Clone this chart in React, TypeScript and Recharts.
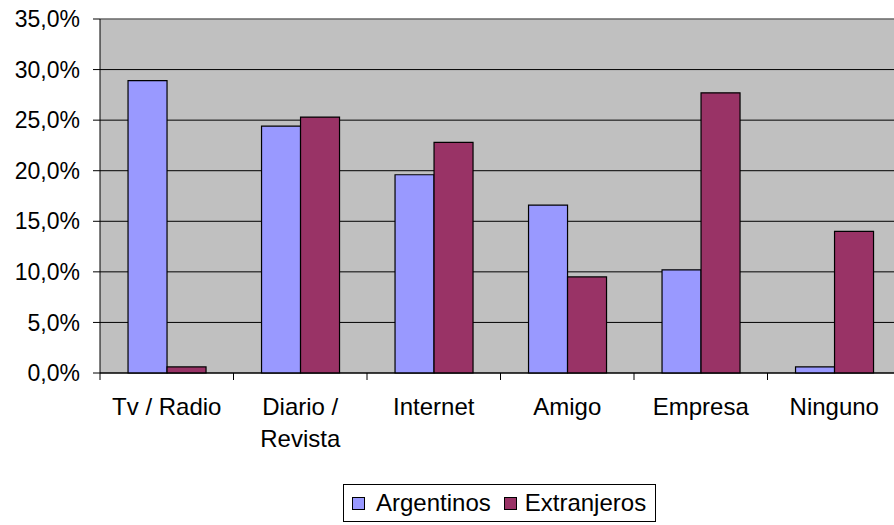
import React from 'react';
import {
  BarChart,
  Bar,
  XAxis,
  YAxis,
  CartesianGrid,
  ReferenceLine,
  Legend
} from 'recharts';

const categories = ['Tv / Radio', 'Diario / Revista', 'Internet', 'Amigo', 'Empresa', 'Ninguno'];
const argentinos = [28.9, 24.4, 19.6, 16.6, 10.2, 0.6];
const extranjeros = [0.6, 25.3, 22.8, 9.5, 27.7, 14.0];
const yTicks = [0, 5, 10, 15, 20, 25, 30, 35];

const seriesInfo = [
  { key: 'argentinos', name: 'Argentinos', color: '#9999FF' },
  { key: 'extranjeros', name: 'Extranjeros', color: '#993366' }
];

const data = categories.map((cat, i) => ({
  cat,
  argentinos: argentinos[i],
  extranjeros: extranjeros[i]
}));

const FONT = '"Liberation Sans", Arial, sans-serif';

const fmtPct = (v: number) => v.toFixed(1).replace('.', ',') + '%';

// splits "Diario / Revista" into two lines like the original
const wrapLabel = (s: string) => (s === 'Diario / Revista' ? ['Diario /', 'Revista'] : [s]);

const CatTick = (props: any) => {
  const { x, y, payload } = props;
  const lines = wrapLabel(payload.value);
  return (
    <text x={x} y={y} textAnchor="middle" fill="#000" fontSize={24} fontFamily={FONT}>
      {lines.map((l, i) => (
        <tspan key={i} x={x} dy={i === 0 ? 33 : 32}>
          {l}
        </tspan>
      ))}
    </text>
  );
};

// tick marks sit between categories (Excel style), not under the centres
const BoundaryTick = (props: any) => {
  const { x, y, payload, index, visibleTicksCount } = props;
  const half = payload.offset ?? 0;
  const xl = x - half;
  const xr = x + half;
  return (
    <g>
      <line x1={xl} y1={y} x2={xl} y2={y + 7} stroke="#000" />
      {index === visibleTicksCount - 1 && <line x1={xr} y1={y} x2={xr} y2={y + 7} stroke="#000" />}
    </g>
  );
};

const LegendBox = () => (
  <div
    style={{
      width: 313,
      height: 38,
      boxSizing: 'border-box',
      border: '1px solid #000',
      background: '#fff',
      display: 'flex',
      alignItems: 'center',
      paddingLeft: 8,
      fontFamily: FONT,
      fontSize: 24,
      color: '#000'
    }}
  >
    {seriesInfo.map((s, i) => (
      <div key={s.key} style={{ display: 'flex', alignItems: 'center', marginLeft: i === 0 ? 0 : 13 }}>
        <span
          style={{
            display: 'inline-block',
            width: 13,
            height: 13,
            boxSizing: 'border-box',
            background: s.color,
            border: '1px solid #000',
            marginRight: i === 0 ? 11 : 8
          }}
        />
        <span>{s.name}</span>
      </div>
    ))}
  </div>
);

export default function App() {
  return (
    <div
      style={{
        position: 'absolute',
        left: 0,
        top: 0,
        width: 894,
        height: 525,
        overflow: 'hidden',
        background: '#fff'
      }}
    >
      <BarChart
        width={910}
        height={525}
        data={data}
        margin={{ top: 19, right: 9, bottom: 71, left: 0 }}
        barCategoryGap="21%"
        barGap={0}
      >
        <CartesianGrid vertical={false} stroke="#000" fill="#C0C0C0" />
        <XAxis
          xAxisId={0}
          dataKey="cat"
          height={1}
          tickSize={0}
          tickMargin={0}
          tickLine={false}
          interval={0}
          tick={<BoundaryTick />}
          axisLine={{ stroke: '#000' }}
        />
        <XAxis
          xAxisId={1}
          dataKey="cat"
          height={80}
          tickLine={false}
          axisLine={false}
          interval={0}
          tick={<CatTick />}
        />
        <YAxis
          domain={[0, 35]}
          ticks={yTicks}
          width={100}
          tickSize={7}
          tickMargin={13}
          tickFormatter={fmtPct}
          tick={{ fill: '#000', fontSize: 23, fontFamily: FONT }}
          tickLine={{ stroke: '#000' }}
          axisLine={{ stroke: '#000' }}
          interval={0}
        />
        <ReferenceLine y={35} xAxisId={1} stroke="#9a9a9a" />
        {seriesInfo.map((s) => (
          <Bar
            key={s.key}
            xAxisId={1}
            dataKey={s.key}
            name={s.name}
            fill={s.color}
            stroke="#000"
            strokeWidth={1.2}
            isAnimationActive={false}
          />
        ))}
        <Legend
          layout="horizontal"
          verticalAlign="middle"
          align="center"
          content={() => <LegendBox />}
          wrapperStyle={{ top: 484, left: 343, width: 313, height: 38 }}
        />
      </BarChart>
    </div>
  );
}
